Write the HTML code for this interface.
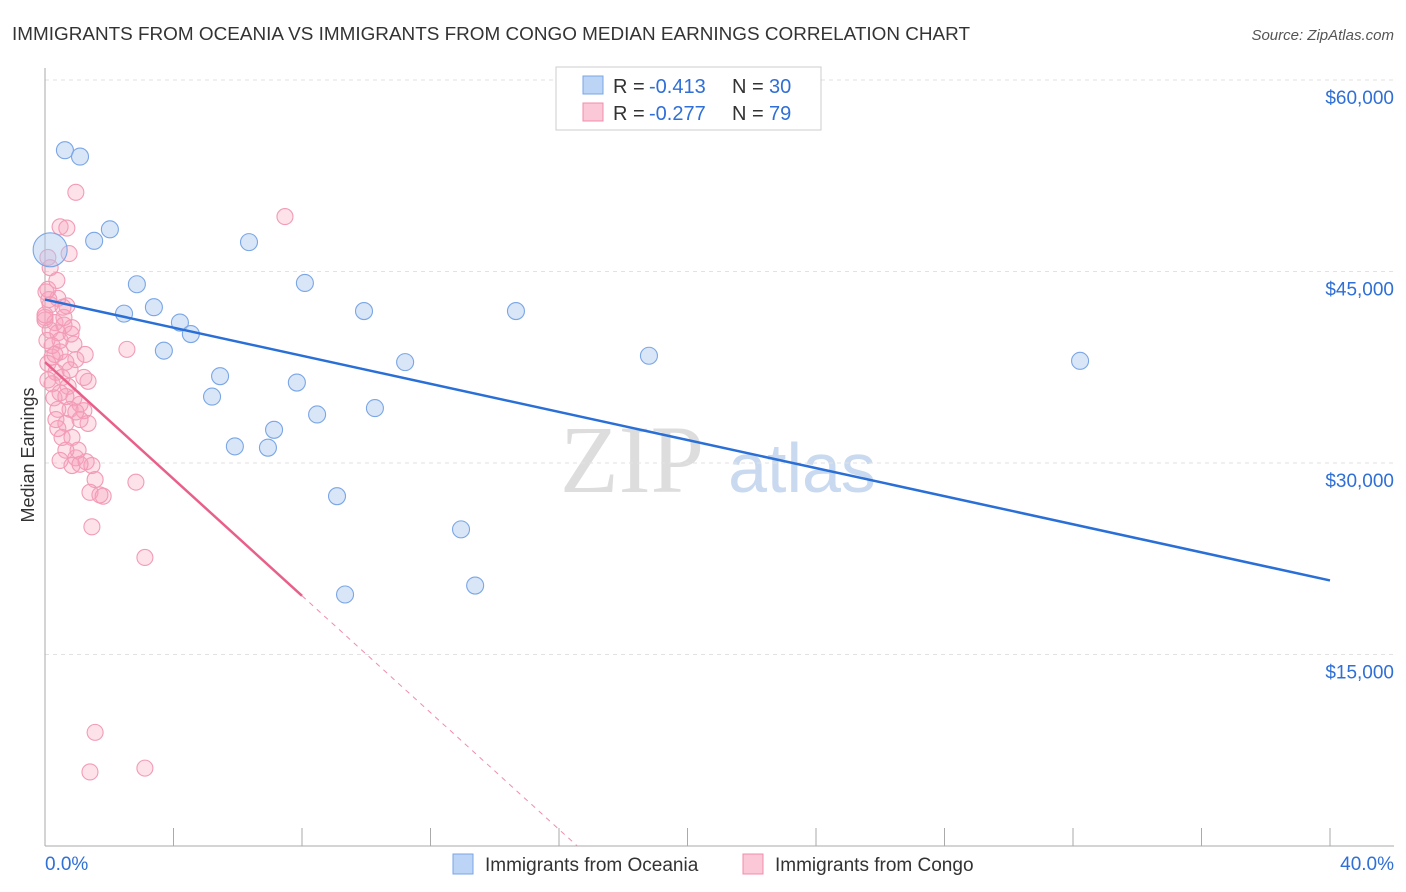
<!DOCTYPE html>
<html><head><meta charset="utf-8"><style>
body{margin:0;background:#fff;font-family:"Liberation Sans",sans-serif;}
svg{display:block}
</style></head><body>
<svg id="c" width="1406" height="892">
<text x="12" y="40" font-size="18" fill="#333" textLength="958" lengthAdjust="spacingAndGlyphs">IMMIGRANTS FROM OCEANIA VS IMMIGRANTS FROM CONGO MEDIAN EARNINGS CORRELATION CHART</text>
<text x="1394" y="40" font-size="15" fill="#555" font-style="italic" text-anchor="end">Source: ZipAtlas.com</text>
<text x="632" y="492" font-size="96" fill="#ddd" font-family="Liberation Serif" text-anchor="middle">ZIP</text>
<text x="802" y="492" font-size="70" fill="#c9d9ef" text-anchor="middle">atlas</text>
<text transform="translate(34,455) rotate(-90)" font-size="18" fill="#333" text-anchor="middle">Median Earnings</text>
<g id="grid"></g><g id="marks"></g>
<g>
<rect x="556" y="67" width="265" height="63" fill="#fff" stroke="#ccc"/>
<rect x="583" y="76" width="20" height="18" fill="#bcd4f5" stroke="#7aa6e6"/>
<rect x="583" y="103" width="20" height="18" fill="#fbc8d7" stroke="#f08cab"/>
<text x="613" y="93" font-size="20" fill="#333">R =</text><text x="649" y="93" font-size="20" fill="#2f6fd6">-0.413</text>
<text x="732" y="93" font-size="20" fill="#333">N =</text><text x="769" y="93" font-size="20" fill="#2f6fd6">30</text>
<text x="613" y="120" font-size="20" fill="#333">R =</text><text x="649" y="120" font-size="20" fill="#2f6fd6">-0.277</text>
<text x="732" y="120" font-size="20" fill="#333">N =</text><text x="769" y="120" font-size="20" fill="#2f6fd6">79</text>
</g>
<g>
<rect x="453" y="854" width="20" height="20" fill="#bcd4f5" stroke="#7aa6e6"/>
<text x="485" y="871" font-size="19" fill="#333">Immigrants from Oceania</text>
<rect x="743" y="854" width="20" height="20" fill="#fbc8d7" stroke="#f08cab"/>
<text x="775" y="871" font-size="19" fill="#333">Immigrants from Congo</text>
</g>
<text x="45" y="870" font-size="19" fill="#2f6fd6">0.0%</text>
<text x="1394" y="870" font-size="19" fill="#2f6fd6" text-anchor="end">40.0%</text>
</svg>
<script>
const yTicks=[15000,30000,45000,60000];
const yTickLabels=["$15,000","$30,000","$45,000","$60,000"];
const oceaniaX=[0.62,1.09,2.02,1.53,6.35,2.86,8.09,2.46,3.39,4.20,4.54,9.93,14.66,3.70,18.80,11.21,32.22,5.45,7.84,5.20,8.47,10.27,7.13,5.91,6.94,9.09,12.95,13.39,9.34,0.16];
const oceaniaY=[54500,54000,48300,47400,47300,44000,44100,41700,42200,41000,40100,41900,41900,38800,38400,37900,38000,36800,36300,35200,33800,34300,32600,31300,31200,27400,24800,20400,19700,46700];
const congoX=[0.96,7.47,0.47,0.68,0.75,0.09,0.16,0.03,0.40,0.16,0.68,0.0,0.31,0.59,0.84,0.16,0.40,2.55,0.90,0.47,0.22,0.96,0.65,0.09,0.34,0.53,1.34,0.22,0.72,1.21,0.47,0.90,1.09,0.40,0.78,1.21,0.34,0.65,1.34,0.53,0.84,0.96,1.28,1.46,0.84,1.09,1.56,1.40,1.81,2.83,1.46,3.11,1.56,3.11,1.40,0.09,0.28,0.06,0.0,0.12,0.47,1.25,0.59,0.78,0.22,1.09,1.03,0.65,0.40,1.71,0.09,0.0,0.37,0.56,0.81,0.31,0.65,0.96,0.47];
const congoY=[51200,49300,48500,48400,46400,46100,45300,43400,42900,42400,42300,41200,41000,40800,40600,40400,40200,38900,39300,38700,38300,38100,37900,37800,37100,36700,36400,36200,36000,36700,35500,35100,34600,34200,34200,34100,33400,33100,33100,32000,32000,30400,30100,29800,29800,29900,28700,27700,27400,28500,25000,22600,8900,6100,5800,36500,35100,39600,41400,42800,39600,38500,41400,37300,39200,33400,31000,31000,32700,27500,43600,41600,44300,42200,40100,38500,35200,34000,30200];
const oceaniaTrend=[42800,20800];
const congoTrend=[37900,19600];
const congoTrendEndX=8;

const X=v=>45+v/40*1285, Y=v=>846-v*0.012767;
const NS="http://www.w3.org/2000/svg";
function mk(t,a,p){const e=document.createElementNS(NS,t);for(const k in a)e.setAttribute(k,a[k]);p.appendChild(e);return e;}
const g=document.getElementById('grid'), m=document.getElementById('marks');
yTicks.forEach((t,i)=>{
 const l=mk('line',{x1:45,x2:1394,y1:Y(t),y2:Y(t),stroke:'#e2e2e2','stroke-dasharray':'4,4'},g);
 
 
 const tx=mk('text',{x:1394,y:Y(t)+24,'font-size':19,fill:'#2f6fd6','text-anchor':'end'},g);
 tx.textContent=yTickLabels[i];
 
 
});
mk('line',{x1:45,x2:45,y1:68,y2:846,stroke:'#aaa'},g);
mk('line',{x1:45,x2:1394,y1:846,y2:846,stroke:'#aaa'},g);
for(let i=0;i<=10;i++){const l=mk('line',{x1:X(i*4),x2:X(i*4),y1:828,y2:846,stroke:'#aaa'},g);
 
 }
congoX.forEach((v,i)=>{const c=mk('circle',{cx:X(v),cy:Y(congoY[i]),r:8,fill:'rgba(247,160,186,0.3)',stroke:'#f29bb6','stroke-width':1.1},m);
 
 });
oceaniaX.forEach((v,i)=>{const big=i===oceaniaX.length-1;const c=mk('circle',{cx:X(v),cy:Y(oceaniaY[i]),r:big?17:8.5,fill:'rgba(170,200,240,0.45)',stroke:'#7aa6e6','stroke-width':1.1},m);
 
 });
const slope=(congoTrend[1]-congoTrend[0])/congoTrendEndX, zeroX=-congoTrend[0]/slope;
let l=mk('line',{x1:X(congoTrendEndX),y1:Y(congoTrend[1]),x2:X(zeroX),y2:Y(0),stroke:'#f08cab','stroke-dasharray':'5,5','stroke-width':1},m);


l=mk('line',{x1:X(0),y1:Y(congoTrend[0]),x2:X(congoTrendEndX),y2:Y(congoTrend[1]),stroke:'#e8608a','stroke-width':2.5},m);


l=mk('line',{x1:X(0),y1:Y(oceaniaTrend[0]),x2:X(40),y2:Y(oceaniaTrend[1]),stroke:'#2a6fd6','stroke-width':2.5},m);


</script>
</body></html>
